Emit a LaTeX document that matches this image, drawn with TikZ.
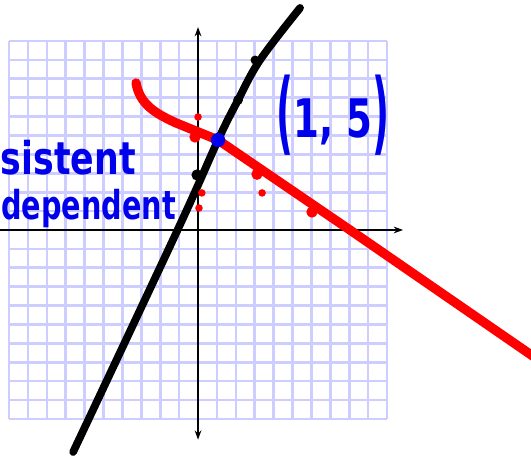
\documentclass[tikz,border=0pt]{standalone}
\usepackage{fontspec}
\setmainfont{DejaVu Sans}
\usepackage{graphicx}
\usetikzlibrary{arrows.meta}
\definecolor{gridLilac}{RGB}{205, 205, 255}
\definecolor{inkBlue}{RGB}{0, 0, 235}
\definecolor{inkRed}{RGB}{255, 0, 0}

\begin{document}
\begin{tikzpicture}[x=0.5cm, y=0.5cm,
    paper/.style={gridLilac, line width=2pt},
    axis/.style={line width=1.5pt, -{Stealth[length=7pt, width=5pt]}},
    penBlack/.style={line width=5.8pt, line cap=round, line join=round, black},
    penRed/.style={line width=7pt, line cap=round, line join=round, inkRed},
    handText/.style={inkBlue, inner sep=0pt, font=\bfseries}]
    \useasboundingbox (-10.48, -12.12) rectangle (17.62, 12.17);
    \clip (-10.48, -12.12) rectangle (17.62, 12.17);

    % Grid paper
    \draw[paper, step=0.5cm] (-10, -10) grid (10, 10);

    % Axes
    \draw[axis] (-10.6, 0) -- (10.85, 0);
    \draw[axis] (0, -9.9) -- (0, 10.74);
    \draw[axis] (0, 9.9) -- (0, -11.1);

    % Black line
    \draw[penBlack] plot[smooth, tension=0.6] coordinates {
        (-6.61, -11.75) (-1.06, 0.05) (1.06, 4.76) (2.12, 6.88) (3.28, 8.99) (5.40, 11.75)};
    \fill[black] (3.02, 8.99) circle (0.24);
    \fill[black] (2.12, 6.88) circle (0.26);
    \fill[black] (-0.05, 2.91) circle (0.3);

    % Red line
    \draw[penRed] (-3.28, 7.78) to[out=-80, in=155] (-1.2, 5.68) -- (1.06, 4.76)
        -- (8.04, 0) -- (17.9, -6.8);
    \foreach \p in {(0, 5.98), (0.2, 1.96), (0.05, 1.16), (3.39, 1.96)}
        \fill[inkRed] \p circle (0.2);
    \foreach \p in {(-0.16, 4.92), (3.12, 2.95), (6.03, 0.95)}
        \fill[inkRed] \p circle (0.3);

    % Point of intersection
    \fill[inkBlue] (1.06, 4.76) circle (0.38);

    % Labels
    \node[handText, anchor=base west, font=\bfseries\fontsize{34}{34}\selectfont] (sistent) at (-10.45, 2.91)
        {\scalebox{0.77}[1]{sistent}};
    \node[handText, anchor=base west, font=\bfseries\fontsize{30}{30}\selectfont] (dependent) at (-10.42, 0.55)
        {\scalebox{0.72}[1]{dependent}};
    \node[handText, font=\bfseries\fontsize{40}{40}\selectfont] (point) at (7.14, 6.1)
        {\scalebox{0.7}[1]{\raisebox{-0.1em}{\scalebox{1}[1.7]{(}}1, 5\raisebox{-0.1em}{\scalebox{1}[1.7]{)}}}};
\end{tikzpicture}
\end{document}
